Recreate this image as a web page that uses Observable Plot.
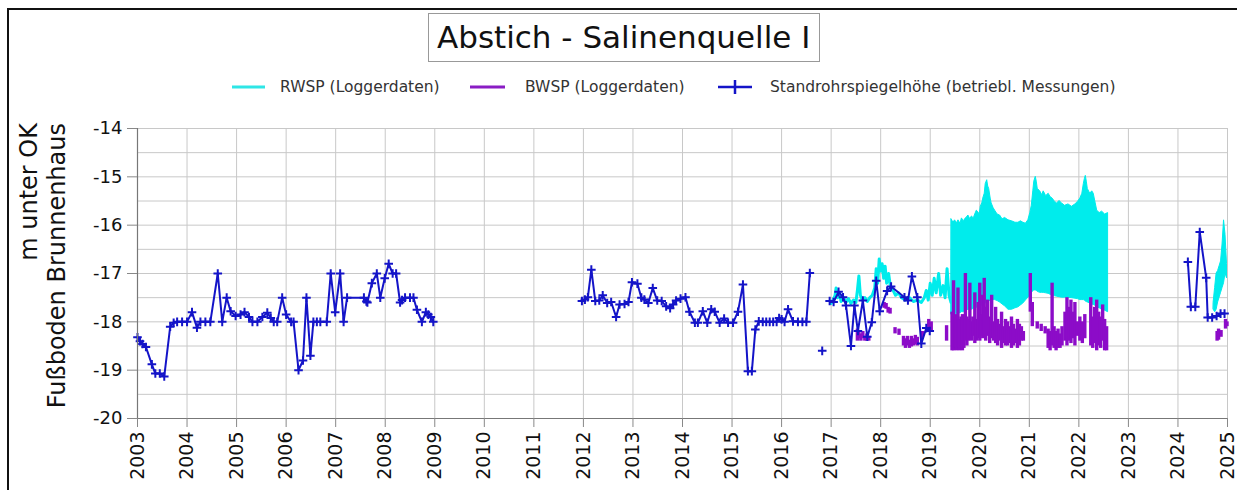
<!DOCTYPE html>
<html><head><meta charset="utf-8">
<script src="https://cdn.jsdelivr.net/npm/d3@7"></script>
<script src="https://cdn.jsdelivr.net/npm/@observablehq/plot@0.6"></script>
<style>
body{margin:0;background:#fff;font-family:"DejaVu Sans",Verdana,sans-serif;}
#wrap{position:relative;width:1237px;height:490px;overflow:hidden;background:#fff;}
#frame{position:absolute;left:7px;top:8px;width:1300px;height:600px;border:2px solid #111;pointer-events:none;z-index:5;}
#header{position:relative;height:110px;}
#title{position:absolute;left:428px;top:13px;width:392px;height:49px;border:1px solid #999;box-sizing:border-box;font-size:31px;line-height:47px;padding-left:8px;color:#111;white-space:nowrap;}
.leg{position:absolute;top:78px;font-size:15.5px;color:#333;white-space:nowrap;line-height:18px;}
#ylab{position:absolute;left:15px;top:423px;width:300px;transform:rotate(-90deg);transform-origin:top left;text-align:right;font-size:24px;line-height:28px;color:#111;white-space:nowrap;z-index:3;}
#sw{position:absolute;left:0;top:0;}
#chart{position:relative;}
</style></head>
<body>
<div id="wrap">
  <div id="frame"></div>
  <div id="header">
    <div id="title">Abstich - Salinenquelle I</div>
    <svg id="sw" width="1237" height="110">
      <line x1="232" y1="87" x2="265" y2="87" stroke="#2ee6e6" stroke-width="3"/>
      <line x1="470" y1="87" x2="505" y2="87" stroke="#8a1cc4" stroke-width="3"/>
      <line x1="718" y1="87" x2="752" y2="87" stroke="#1414c8" stroke-width="2.5"/>
      <line x1="735" y1="80" x2="735" y2="94" stroke="#1414c8" stroke-width="2.5"/>
    </svg>
    <span class="leg" style="left:280px">RWSP (Loggerdaten)</span>
    <span class="leg" style="left:525px">BWSP (Loggerdaten)</span>
    <span class="leg" style="left:770px">Standrohrspiegelhöhe (betriebl. Messungen)</span>
  </div>
  <div id="ylab">m unter OK<br>Fußboden Brunnenhaus</div>
  <div id="chart"></div>
</div>
<script>
// ---- tick labels ----
const xTicks = [2003,2004,2005,2006,2007,2008,2009,2010,2011,2012,2013,2014,2015,2016,2017,2018,2019,2020,2021,2022,2023,2024,2025];
const yTicks = [-14,-15,-16,-17,-18,-19,-20];
const yGrid = [-14,-14.5,-15,-15.5,-16,-16.5,-17,-17.5,-18,-18.5,-19,-19.5,-20];

// ---- Standrohrspiegelhöhe (betriebl. Messungen), one list per connected run ----
const blue2003Year = [2003.00,2003.05,2003.10,2003.17,2003.29,2003.36,2003.45,2003.54,2003.66,2003.73,2003.80,2003.90,
 2004.00,2004.10,2004.20,2004.27,2004.37,2004.47,2004.62,2004.71,2004.80,2004.88,2004.98,
 2005.08,2005.16,2005.25,2005.32,2005.42,2005.52,2005.62,2005.69,2005.75,2005.82,2005.92,
 2006.00,2006.10,2006.15,2006.25,2006.34,2006.41,2006.49,2006.55,2006.62,2006.69,2006.82,2006.90,2006.99,
 2007.09,2007.16,2007.23,2007.57,2007.62,2007.64,2007.73,2007.83,2007.90,2007.99,
 2008.07,2008.15,2008.22,2008.30,2008.34,2008.40,2008.50,2008.57,2008.64,2008.74,2008.82,2008.87,2008.92,2008.97];
const blue2003Value = [-18.32,-18.40,-18.46,-18.52,-18.88,-19.07,-19.07,-19.13,-18.10,-18.02,-18.00,-18.00,
 -18.00,-17.80,-18.12,-18.00,-18.00,-18.00,-17.00,-18.00,-17.50,-17.78,-17.88,
 -17.85,-17.80,-17.90,-18.00,-18.00,-17.90,-17.81,-17.92,-18.00,-18.00,-17.50,
 -17.85,-18.00,-18.00,-19.00,-18.80,-17.50,-18.70,-18.00,-18.00,-18.00,-18.00,-17.00,-17.80,
 -17.00,-18.00,-17.50,-17.50,-17.58,-17.60,-17.20,-17.00,-17.50,-17.10,
 -16.80,-17.00,-17.00,-17.60,-17.55,-17.50,-17.50,-17.50,-17.75,-18.00,-17.80,-17.85,-17.90,-18.00];

const blue2012Year = [2011.97,2012.03,2012.09,2012.16,2012.24,2012.32,2012.39,2012.48,2012.56,2012.66,2012.73,2012.83,2012.91,2012.98,
 2013.09,2013.17,2013.23,2013.31,2013.40,2013.49,2013.58,2013.67,2013.75,2013.81,2013.87,2013.96,
 2014.06,2014.14,2014.25,2014.31,2014.41,2014.50,2014.58,2014.65,2014.75,2014.84,2014.92,
 2015.02,2015.12,2015.22,2015.32,2015.40,2015.47,2015.54,2015.62,2015.69,2015.76,2015.83,2015.90,2015.95,
 2016.00,2016.06,2016.13,2016.23,2016.33,2016.42,2016.50,2016.57];
const blue2012Value = [-17.57,-17.54,-17.49,-16.92,-17.57,-17.56,-17.45,-17.61,-17.59,-17.90,-17.64,-17.63,-17.59,-17.18,
 -17.21,-17.50,-17.54,-17.61,-17.30,-17.56,-17.57,-17.68,-17.72,-17.64,-17.56,-17.52,
 -17.49,-17.79,-18.02,-18.02,-17.78,-18.02,-17.74,-17.79,-18.02,-17.93,-18.02,
 -18.02,-17.79,-17.23,-19.02,-19.02,-18.16,-17.99,-18.00,-18.00,-18.00,-18.00,-18.00,-17.92,
 -17.95,-18.00,-17.74,-17.99,-18.00,-18.00,-18.00,-16.99];

const blueSingleYear = [2016.82];
const blueSingleValue = [-18.60];

const blue2017Year = [2016.97,2017.05,2017.15,2017.24,2017.30,2017.40,2017.47,2017.54,2017.64,2017.73,2017.82,2017.91,2017.98,
 2018.13,2018.21,2018.48,2018.55,2018.63,2018.74,2018.82,2018.92,2018.99];
const blue2017Value = [-17.57,-17.59,-17.38,-17.49,-17.66,-18.50,-17.66,-18.19,-17.56,-18.31,-18.01,-17.15,-17.78,
 -17.36,-17.27,-17.49,-17.56,-17.06,-17.49,-18.45,-18.13,-18.19];

const blue2024Year = [2024.20,2024.26,2024.35,2024.44,2024.57,2024.60,2024.69,2024.78,2024.86,2024.94];
const blue2024Value = [-16.76,-17.69,-17.69,-16.14,-17.09,-17.91,-17.91,-17.88,-17.83,-17.83];

// ---- RWSP (Loggerdaten) ----
const rwspThinYear = [2017.00,2017.04,2017.08,2017.10,2017.13,2017.17,2017.20,2017.25,2017.30,2017.35,2017.40,2017.45,2017.50,2017.53,2017.56,2017.59,2017.63,2017.68,2017.73,2017.78,2017.83,2017.88,2017.91,2017.94,2017.97,2018.00,2018.03,2018.06,2018.09,2018.12,2018.16,2018.20,2018.25,2018.30,2018.36,2018.42,2018.50,2018.58,2018.66,2018.74,2018.82,2018.88,2018.92,2018.96,2019.00,2019.04,2019.08,2019.12,2019.17,2019.21,2019.26,2019.30,2019.34,2019.38,2019.42];
const rwspThinValue = [-17.62,-17.55,-17.45,-17.30,-17.50,-17.40,-17.58,-17.50,-17.60,-17.52,-17.62,-17.55,-17.60,-17.35,-17.05,-17.45,-17.55,-17.50,-17.58,-17.50,-17.45,-17.30,-16.90,-17.20,-16.70,-16.95,-16.80,-17.10,-16.85,-17.20,-17.00,-17.30,-17.35,-17.45,-17.40,-17.50,-17.55,-17.50,-17.58,-17.55,-17.60,-17.50,-17.35,-17.55,-17.20,-17.45,-17.10,-17.40,-17.00,-17.45,-17.25,-17.50,-16.90,-17.45,-17.60];

const rwspDenseYear = [2019.43,2019.47,2019.50,2019.54,2019.57,2019.61,2019.64,2019.68,2019.70,2019.74,2019.77,2019.81,2019.84,2019.88,2019.90,2019.94,2019.96,2020.00,2020.02,2020.05,2020.07,2020.10,2020.12,2020.15,2020.17,2020.19,2020.22,2020.24,2020.28,2020.31,2020.36,2020.41,2020.46,2020.51,2020.58,2020.65,2020.72,2020.78,2020.83,2020.88,2020.93,2020.98,2021.02,2021.05,2021.08,2021.10,2021.13,2021.15,2021.17,2021.22,2021.26,2021.29,2021.34,2021.39,2021.43,2021.47,2021.52,2021.56,2021.61,2021.66,2021.72,2021.79,2021.86,2021.93,2021.98,2022.03,2022.07,2022.10,2022.12,2022.14,2022.16,2022.18,2022.23,2022.27,2022.30,2022.34,2022.37,2022.42,2022.47,2022.53,2022.59];
const rwspDenseHigh = [-15.88,-15.95,-15.90,-15.96,-15.90,-15.97,-15.86,-15.93,-15.88,-15.84,-15.80,-15.88,-15.82,-15.86,-15.80,-15.70,-15.72,-15.78,-15.62,-15.55,-15.45,-15.35,-15.15,-15.07,-15.20,-15.25,-15.45,-15.55,-15.65,-15.70,-15.78,-15.80,-15.88,-15.85,-15.90,-15.92,-15.95,-15.95,-15.92,-15.95,-15.97,-15.90,-15.75,-15.60,-15.30,-15.10,-15.00,-15.10,-15.25,-15.30,-15.38,-15.30,-15.40,-15.35,-15.42,-15.45,-15.52,-15.55,-15.50,-15.55,-15.60,-15.57,-15.62,-15.57,-15.52,-15.45,-15.35,-15.15,-15.05,-14.98,-15.10,-15.25,-15.35,-15.30,-15.35,-15.55,-15.70,-15.75,-15.72,-15.78,-15.75];
const rwspDenseLow = [-17.85,-17.85,-17.85,-17.84,-17.82,-17.82,-17.80,-17.80,-17.78,-17.77,-17.75,-17.75,-17.75,-17.73,-17.72,-17.71,-17.70,-17.69,-17.68,-17.66,-17.65,-17.63,-17.62,-17.60,-17.59,-17.58,-17.56,-17.55,-17.55,-17.55,-17.57,-17.60,-17.64,-17.68,-17.75,-17.75,-17.72,-17.70,-17.66,-17.62,-17.56,-17.50,-17.45,-17.40,-17.37,-17.35,-17.35,-17.36,-17.38,-17.40,-17.40,-17.40,-17.41,-17.42,-17.44,-17.45,-17.47,-17.48,-17.49,-17.50,-17.50,-17.50,-17.51,-17.52,-17.53,-17.55,-17.55,-17.55,-17.56,-17.58,-17.59,-17.60,-17.62,-17.64,-17.65,-17.67,-17.70,-17.72,-17.75,-17.77,-17.80];

const rwsp2024Year = [2024.72,2024.75,2024.78,2024.81,2024.84,2024.87,2024.90,2024.93,2024.96,2024.99];
const rwsp2024High = [-17.60,-17.30,-17.00,-16.95,-16.85,-16.75,-16.40,-15.90,-16.20,-16.80];
const rwsp2024Low  = [-17.75,-17.80,-17.75,-17.60,-17.50,-17.40,-17.30,-17.20,-17.00,-17.10];

// ---- BWSP (Loggerdaten) ----
const bwspYear = [
 2017.53,2017.56,2017.60,2017.64,2017.68,2017.72,2017.76,2018.07,2018.11,2018.15,2018.19,2018.29,2018.37,
 2018.46,2018.50,2018.54,2018.58,2018.62,2018.66,2018.70,2018.74,2018.84,2018.97,2019.02,2019.33,
 2019.44,2019.47,2019.50,2019.53,2019.56,2019.59,2019.62,2019.65,2019.68,2019.71,2019.74,2019.77,2019.80,2019.83,2019.86,2019.90,2019.93,2019.97,
 2020.00,2020.03,2020.06,2020.09,2020.12,2020.16,2020.20,2020.24,2020.28,2020.32,2020.36,2020.40,2020.44,2020.48,2020.52,2020.56,2020.60,2020.64,2020.68,2020.72,2020.76,2020.80,2020.84,2020.88,
 2021.02,2021.06,2021.16,2021.24,2021.32,2021.38,2021.42,2021.46,2021.50,2021.54,2021.58,2021.62,2021.66,2021.72,2021.76,2021.80,2021.84,2021.88,2021.92,2021.97,
 2022.02,2022.07,2022.12,2022.24,2022.28,2022.32,2022.36,2022.40,2022.44,2022.48,2022.52,2022.56,
 2024.79,2024.82,2024.87,2024.96,2024.99
];
const bwspTop = [
 -18.15,-18.20,-18.25,-18.20,-18.30,-18.25,-18.30,-17.60,-17.62,-17.70,-17.72,-18.12,-18.15,
 -18.30,-18.35,-18.30,-18.38,-18.30,-18.35,-18.28,-18.32,-18.20,-17.95,-18.00,-18.08,
 -17.80,-17.15,-17.90,-17.85,-17.30,-17.95,-17.90,-17.85,-17.95,-17.00,-17.90,-17.95,-17.20,-18.00,-17.90,-17.40,-17.95,-17.60,
 -17.20,-17.85,-17.45,-17.10,-17.70,-17.55,-17.90,-17.45,-18.00,-17.70,-17.95,-18.05,-17.80,-18.10,-17.95,-18.00,-18.10,-17.90,-18.05,-18.15,-17.95,-18.05,-18.10,-18.20,
 -17.00,-17.60,-18.00,-18.05,-18.10,-18.15,-18.20,-17.20,-18.10,-18.20,-18.15,-18.25,-18.10,-17.80,-17.50,-17.70,-17.55,-17.80,-17.60,-18.00,
 -17.90,-18.00,-17.85,-17.50,-17.90,-17.70,-17.55,-17.80,-17.90,-17.65,-17.95,-18.10,
 -18.20,-18.15,-18.18,-17.95,-18.00
];
const bwspBottom = [
 -18.40,-18.35,-18.40,-18.35,-18.40,-18.40,-18.40,-17.72,-17.74,-17.82,-17.84,-18.25,-18.28,
 -18.50,-18.55,-18.50,-18.55,-18.52,-18.50,-18.48,-18.50,-18.35,-18.15,-18.20,-18.40,
 -18.60,-18.60,-18.55,-18.60,-18.55,-18.60,-18.50,-18.60,-18.55,-18.40,-18.50,-18.40,-18.35,-18.40,-18.30,-18.45,-18.40,-18.35,
 -18.40,-18.30,-18.35,-18.30,-18.40,-18.30,-18.45,-18.35,-18.40,-18.45,-18.50,-18.40,-18.55,-18.45,-18.50,-18.50,-18.45,-18.55,-18.50,-18.45,-18.55,-18.50,-18.40,-18.40,
 -17.80,-18.10,-18.15,-18.20,-18.25,-18.55,-18.60,-18.50,-18.55,-18.60,-18.55,-18.55,-18.50,-18.40,-18.50,-18.40,-18.45,-18.35,-18.50,-18.30,
 -18.40,-18.45,-18.35,-18.50,-18.55,-18.45,-18.60,-18.50,-18.55,-18.40,-18.60,-18.60,
 -18.40,-18.38,-18.32,-18.15,-18.10
];

// ---- build tables ----
const runs = [
  [blue2003Year, blue2003Value], [blue2012Year, blue2012Value], [blueSingleYear, blueSingleValue],
  [blue2017Year, blue2017Value], [blue2024Year, blue2024Value]
];
const blue = runs.flatMap(([ys, vs], s) => ys.map((x, i) => ({x, y: vs[i], s})));
const rwspThin = rwspThinYear.map((x,i)=>({x, y: rwspThinValue[i]}));
const rwspDense = rwspDenseYear.map((x,i)=>({x, hi: rwspDenseHigh[i], lo: rwspDenseLow[i]}));
const rwsp2024 = rwsp2024Year.map((x,i)=>({x, hi: rwsp2024High[i], lo: rwsp2024Low[i]}));
const bwsp = bwspYear.map((x,i)=>({x, top: bwspTop[i], bottom: bwspBottom[i]}));

const CYAN = "#00ecec", PURPLE = "#8c0cc8", BLUE = "#1414c8";
const plusSymbol = {draw(ctx, size){ const r = Math.sqrt(size/Math.PI); ctx.moveTo(-r,0); ctx.lineTo(r,0); ctx.moveTo(0,-r); ctx.lineTo(0,r); }};

const chart = Plot.plot({
  width: 1237, height: 380,
  marginLeft: 137, marginRight: 10, marginTop: 18, marginBottom: 72,
  x: {type: "linear", domain: [2003, 2025]},
  y: {domain: [-20, -14]},
  style: {fontFamily: "DejaVu Sans, Verdana, sans-serif", background: "transparent", overflow: "visible", color: "#111"},
  marks: [
    Plot.ruleY(yGrid, {stroke: "#c8c8c8", strokeWidth: 1}),
    Plot.ruleX(xTicks, {stroke: "#c8c8c8", strokeWidth: 1}),
    Plot.line(rwspThin, {x: "x", y: "y", stroke: CYAN, strokeWidth: 3}),
    Plot.areaY(rwspDense, {x: "x", y1: "lo", y2: "hi", fill: CYAN, stroke: CYAN, strokeWidth: 1}),
    Plot.areaY(rwsp2024, {x: "x", y1: "lo", y2: "hi", fill: CYAN, stroke: CYAN, strokeWidth: 1}),
    Plot.ruleX(bwsp, {x: "x", y1: "top", y2: "bottom", stroke: PURPLE, strokeWidth: 3.4}),
    Plot.line(blue, {x: "x", y: "y", z: "s", stroke: BLUE, strokeWidth: 2}),
    Plot.dot(blue, {x: "x", y: "y", symbol: plusSymbol, r: 4.3, stroke: BLUE, strokeWidth: 2, fill: "none"}),
    Plot.ruleX([2003], {stroke: "#777", strokeWidth: 1.2}),
    Plot.ruleY([-20], {stroke: "#777", strokeWidth: 1.2}),
    Plot.axisY({ticks: yTicks, tickFormat: d => String(d), tickSize: 10, tickPadding: 5, fontSize: 18, label: null, stroke: "#888", fill: "#111"}),
    Plot.axisX({ticks: xTicks, tickFormat: d => String(d), tickRotate: -90, tickSize: 9, tickPadding: 4, fontSize: 19, label: null, stroke: "#888", fill: "#111"})
  ]
});
document.getElementById("chart").appendChild(chart);
</script>
</body></html>
